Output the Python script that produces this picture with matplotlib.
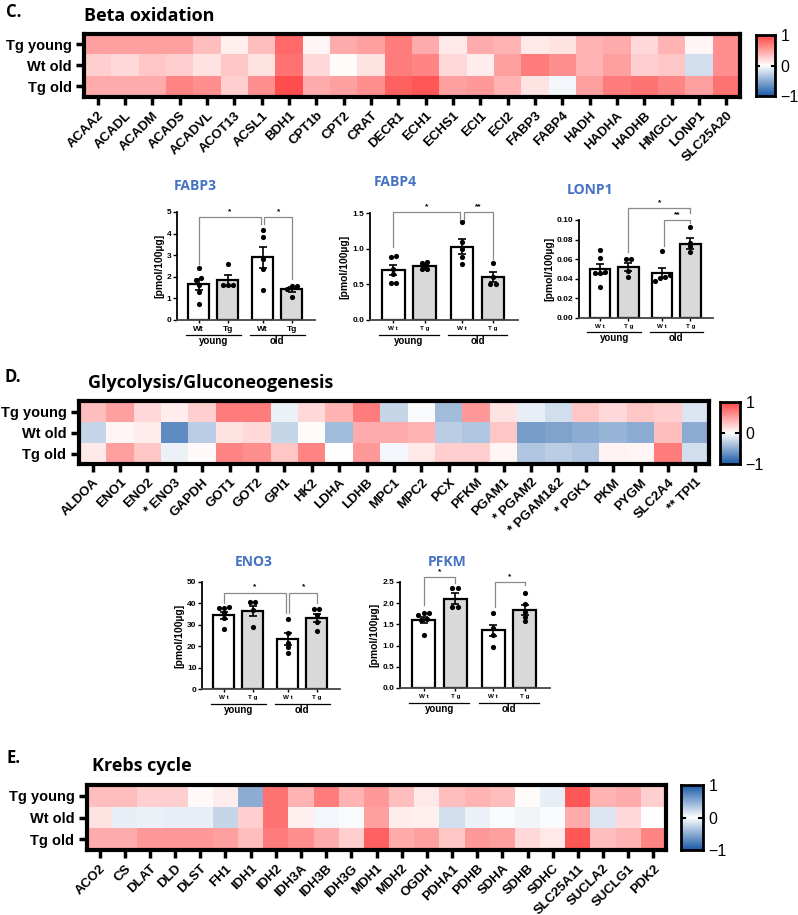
import numpy as np
import matplotlib
matplotlib.use("Agg")
import matplotlib.pyplot as plt
from matplotlib.colors import LinearSegmentedColormap
from matplotlib.lines import Line2D

W, H = 798, 915
LABEL_FONT = ["Liberation Sans", "DejaVu Sans"]
TITLE_FONT = ["Open Sans", "DejaVu Sans"]
plt.rcParams["font.family"] = LABEL_FONT

# ---------------- heatmap data ----------------
rows = ["Tg young", "Wt old", "Tg old"]

beta_genes = ["ACAA2", "ACADL", "ACADM", "ACADS", "ACADVL", "ACOT13", "ACSL1", "BDH1",
              "CPT1b", "CPT2", "CRAT", "DECR1", "ECH1", "ECHS1", "ECI1", "ECI2", "FABP3",
              "FABP4", "HADH", "HADHA", "HADHB", "HMGCL", "LONP1", "SLC25A20"]
beta_tg_young = [0.5, 0.5, 0.5, 0.5, 0.35, 0.08, 0.35, 0.8, 0.05, 0.45, 0.5, 0.7,
                 0.45, 0.12, 0.45, 0.4, 0.12, 0.15, 0.4, 0.45, 0.2, 0.4, 0.05, 0.6]
beta_wt_old = [0.25, 0.2, 0.3, 0.25, 0.15, 0.3, 0.15, 0.75, 0.2, 0.02, 0.15, 0.7,
               0.65, 0.2, 0.1, 0.5, 0.7, 0.6, 0.4, 0.5, 0.25, 0.3, -0.2, 0.6]
beta_tg_old = [0.45, 0.45, 0.45, 0.65, 0.6, 0.25, 0.6, 0.95, 0.45, 0.5, 0.6, 0.85,
               0.9, 0.5, 0.55, 0.4, 0.15, -0.05, 0.5, 0.7, 0.75, 0.65, 0.5, 0.75]

gly_genes = ["ALDOA", "ENO1", "ENO2", "* ENO3", "GAPDH", "GOT1", "GOT2", "GPI1", "HK2",
             "LDHA", "LDHB", "MPC1", "MPC2", "PCX", "PFKM", "PGAM1", "* PGAM2",
             "* PGAM1&2", "* PGK1", "PKM", "PYGM", "SLC2A4", "** TPI1"]
gly_tg_young = [0.35, 0.5, 0.2, 0.1, 0.25, 0.7, 0.7, -0.08, 0.2, 0.4, 0.7, -0.25,
                -0.02, -0.4, 0.55, 0.15, -0.1, -0.2, 0.3, 0.2, 0.3, 0.25, -0.15]
gly_wt_old = [-0.25, 0.05, 0.1, -0.7, -0.3, 0.15, 0.2, -0.25, 0.02, -0.4, 0.45, 0.45,
              0.4, -0.3, -0.35, 0.3, -0.6, -0.55, -0.5, -0.45, -0.5, 0.35, -0.5]
gly_tg_old = [0.12, 0.5, 0.3, -0.08, 0.03, 0.65, 0.6, 0.3, 0.65, 0.0, 0.55, -0.05,
              0.12, 0.25, 0.25, 0.05, -0.35, -0.3, -0.35, 0.07, 0.05, 0.7, -0.2]

krebs_genes = ["ACO2", "CS", "DLAT", "DLD", "DLST", "FH1", "IDH1", "IDH2", "IDH3A",
               "IDH3B", "IDH3G", "MDH1", "MDH2", "OGDH", "PDHA1", "PDHB", "SDHA", "SDHB",
               "SDHC", "SLC25A11", "SUCLA2", "SUCLG1", "PDK2"]
krebs_tg_young = [0.35, 0.35, 0.25, 0.25, 0.03, 0.1, -0.5, 0.75, 0.4, 0.7, 0.4, 0.55,
                  0.35, 0.12, 0.35, 0.4, 0.35, 0.02, -0.1, 0.9, 0.4, 0.45, 0.25]
krebs_wt_old = [0.15, -0.1, -0.08, -0.1, -0.1, -0.25, 0.25, 0.75, 0.08, -0.05, -0.03,
                0.5, 0.1, 0.08, -0.2, -0.08, -0.02, -0.06, -0.02, 0.45, -0.15, 0.2, 0.0]
krebs_tg_old = [0.45, 0.45, 0.55, 0.55, 0.55, 0.5, 0.35, 0.7, 0.6, 0.45, 0.25, 0.85,
                0.45, 0.5, 0.3, 0.55, 0.5, 0.2, 0.12, 0.9, 0.35, 0.4, 0.65]

# ---------------- bar chart data (Wt young, Tg young, Wt old, Tg old) ----------------
groups = ["Wt", "Tg", "Wt", "Tg"]

fabp3_means = [1.65, 1.83, 2.9, 1.43]
fabp3_sems = [0.25, 0.25, 0.5, 0.12]
fabp3_points = [[2.4, 1.95, 1.87, 1.6, 1.28, 0.73], [2.6, 1.62, 1.62, 1.62],
                [4.17, 3.86, 2.84, 2.37, 1.4], [1.59, 1.59, 1.44, 1.08]]

fabp4_means = [0.70, 0.76, 1.03, 0.60]
fabp4_sems = [0.07, 0.03, 0.1, 0.07]
fabp4_points = [[0.88, 0.9, 0.72, 0.65, 0.52, 0.52], [0.82, 0.8, 0.72, 0.72],
                [1.38, 1.1, 1.0, 0.88, 0.78], [0.8, 0.6, 0.5, 0.5]]

lonp1_means = [0.050, 0.052, 0.046, 0.076]
lonp1_sems = [0.005, 0.004, 0.005, 0.006]
lonp1_points = [[0.0695, 0.061, 0.0465, 0.046, 0.046, 0.032], [0.06, 0.0607, 0.048, 0.042],
                [0.068, 0.044, 0.042, 0.041, 0.038], [0.0925, 0.077, 0.073, 0.067]]

eno3_means = [34.5, 36.5, 23.5, 33.2]
eno3_sems = [1.6, 2.5, 2.9, 1.9]
eno3_points = [[38.4, 37.9, 37.9, 35.3, 33.4, 28.0], [40.7, 40.7, 36.8, 29.1],
               [32.7, 26.3, 21.4, 19.5, 17.0], [37.6, 37.2, 34.8, 31.4, 27.2]]

pfkm_means = [1.61, 2.11, 1.36, 1.84]
pfkm_sems = [0.07, 0.12, 0.13, 0.11]
pfkm_points = [[1.72, 1.76, 1.76, 1.62, 1.6, 1.25], [2.37, 2.37, 1.91, 1.91],
               [1.76, 1.41, 1.25, 0.96], [2.25, 1.97, 1.8, 1.68, 1.58]]

heat_cmap = LinearSegmentedColormap.from_list("rwb", ["#1b5aa8", "#ffffff", "#ff4545"])
blue_cmap = LinearSegmentedColormap.from_list("bwb", ["#1b5aa8", "#ffffff", "#1b5aa8"])
positions = [0, 1, 2.2, 3.2]
fills = ["white", "#d9d9d9", "white", "#d9d9d9"]

fig = plt.figure(figsize=(W / 100, H / 100), dpi=100)


def px_axes(x0, y0, x1, y1):
    return fig.add_axes([x0 / W, 1 - y1 / H, (x1 - x0) / W, (y1 - y0) / H])


def px_text(x, y, s, **kw):
    fig.text(x / W, 1 - y / H, s, **kw)


def draw_heatmap(box, genes, values, cbar_box, cbar_cmap):
    ax = px_axes(*box)
    ax.imshow(np.array(values), cmap=heat_cmap, vmin=-1, vmax=1, aspect="auto",
              interpolation="nearest")
    ax.set_xticks(range(len(genes)))
    ax.set_xticklabels(genes, rotation=45, ha="right", rotation_mode="anchor",
                       fontsize=9.5, fontweight="bold")
    ax.set_yticks(range(len(rows)))
    ax.set_yticklabels(rows, fontsize=10.5, fontweight="bold")
    ax.tick_params(width=2.5, length=6, pad=3)
    for s in ax.spines.values():
        s.set_linewidth(3)

    cax = px_axes(*cbar_box)
    grad = np.linspace(1, -1, 200)[:, None]
    cax.imshow(grad, cmap=cbar_cmap, vmin=-1, vmax=1, aspect="auto", extent=[0, 1, -1, 1])
    cax.set_xticks([])
    cax.yaxis.tick_right()
    cax.set_yticks([-1, 0, 1])
    cax.set_yticklabels(["\u22121", "0", "1"], fontsize=11.5)
    cax.tick_params(length=0, pad=4)
    for s in cax.spines.values():
        s.set_linewidth(2)
    for xs in ([0, 0.18], [0.82, 1]):
        cax.plot(xs, [0, 0], color="black", lw=1.5)
    cax.set_xlim(0, 1)
    cax.set_ylim(-1, 1)


def swarm_offsets(vals, tol, step=0.18):
    vals = np.asarray(vals)
    order = np.argsort(vals)
    offsets = np.zeros(len(vals))
    grp = [order[0]]
    all_groups = []
    for k in order[1:]:
        if vals[k] - vals[grp[-1]] < tol:
            grp.append(k)
        else:
            all_groups.append(grp)
            grp = [k]
    all_groups.append(grp)
    for g in all_groups:
        offs = (np.arange(len(g)) - (len(g) - 1) / 2) * step
        for idx, o in zip(g, offs):
            offsets[idx] = o
    return offsets


def draw_bars(box, title, title_xy, means, sems, points, ymax, ystep, fmt, brackets, spaced):
    ax = px_axes(*box)
    ax.bar(positions, means, width=0.72, color=fills, edgecolor="black", linewidth=1.6, zorder=1)
    ax.errorbar(positions, means, yerr=sems, fmt="none", ecolor="black", elinewidth=1.2,
                capsize=3, capthick=1.2, zorder=2)
    for p, pts in zip(positions, points):
        offs = swarm_offsets(pts, tol=ymax * 0.035)
        ax.scatter(p + offs, pts, s=14, color="black", zorder=3, linewidths=0)
    ax.set_xlim(-0.75, 4.0)
    ax.set_ylim(0, ymax)
    ticks = np.arange(0, ymax + ystep / 2, ystep)
    ax.set_yticks(ticks)
    ax.set_yticklabels([fmt % t for t in ticks], fontsize=6, fontweight="bold")
    ax.set_xticks(positions)
    labels = [" ".join(g) for g in groups] if spaced else groups
    ax.set_xticklabels(labels, fontsize=4.5 if spaced else 6, fontweight="bold")
    ax.tick_params(axis="y", width=1, length=3, pad=1)
    ax.tick_params(axis="x", width=1, length=2.5, pad=2)
    for s in ("top", "right"):
        ax.spines[s].set_visible(False)
    ax.spines["left"].set_linewidth(1.3)
    ax.spines["bottom"].set_linewidth(1.3)
    ax.spines["bottom"].set_color("#444444")
    ax.set_ylabel("[pmol/100µg]", fontsize=7.5, fontweight="bold", labelpad=2)

    trans = ax.get_xaxis_transform()
    for (a, b), name in zip(((0, 1), (2.2, 3.2)), ("young", "old")):
        ax.add_line(Line2D([a - 0.45, b + 0.45], [-0.14, -0.14], transform=trans,
                           color="black", lw=0.9, clip_on=False))
        ax.text((a + b) / 2, -0.15, name, transform=trans, ha="center", va="top",
                fontsize=7, fontweight="bold")

    for i, j, y, yi, yj, lab in brackets:
        xi = positions[i] + (0.06 if i == 2 and j == 3 else 0)
        xj = positions[j] - (0.06 if j == 2 else 0)
        ax.plot([xi, xi, xj, xj], [yi, y, y, yj], color="#8a8a8a", lw=0.9,
                clip_on=False, zorder=0)
        ax.text((xi + xj) / 2, y + ymax * 0.02, lab, ha="center", va="bottom",
                fontsize=6, fontweight="bold")

    px_text(title_xy[0], title_xy[1], title, ha="center", va="center", fontsize=10,
            fontweight="bold", color="#4472c4", family=TITLE_FONT)


# ---------------- panel C ----------------
px_text(6, 12, "C.", fontsize=12, fontweight="bold", va="center", family=TITLE_FONT)
px_text(84, 16, "Beta oxidation", fontsize=13, fontweight="bold", va="center", family=TITLE_FONT)
draw_heatmap((84, 34, 740, 97), beta_genes, [beta_tg_young, beta_wt_old, beta_tg_old],
             (756, 35, 775, 96), heat_cmap)

draw_bars((177, 212, 315, 320), "FABP3", (195, 186), fabp3_means, fabp3_sems, fabp3_points,
          5, 1, "%d", [(0, 2, 4.75, 2.6, 4.45, "*"), (2, 3, 4.75, 4.45, 1.9, "*")], False)
draw_bars((370, 213, 518, 320), "FABP4", (395, 182), fabp4_means, fabp4_sems, fabp4_points,
          1.5, 0.5, "%.1f", [(0, 2, 1.51, 1.02, 1.39, "*"), (2, 3, 1.51, 1.39, 0.85, "**")], True)
draw_bars((579, 220, 713, 318), "LONP1", (590, 190), lonp1_means, lonp1_sems, lonp1_points,
          0.10, 0.02, "%.2f", [(1, 3, 0.112, 0.067, 0.107, "*"), (2, 3, 0.100, 0.073, 0.097, "**")], True)

# ---------------- panel D ----------------
px_text(5, 377, "D.", fontsize=12, fontweight="bold", va="center", family=TITLE_FONT)
px_text(88, 383, "Glycolysis/Gluconeogenesis", fontsize=13, fontweight="bold", va="center",
        family=TITLE_FONT)
draw_heatmap((79, 401, 709, 464), gly_genes, [gly_tg_young, gly_wt_old, gly_tg_old],
             (720, 402, 740, 464), heat_cmap)

draw_bars((202, 582, 340, 689), "ENO3", (254, 562), eno3_means, eno3_sems, eno3_points,
          50, 10, "%d", [(0, 2, 45, 40, 35.3, "*"), (2, 3, 45, 35.3, 40.2, "*")], True)
draw_bars((400, 582, 550, 688), "PFKM", (447, 562), pfkm_means, pfkm_sems, pfkm_points,
          2.5, 0.5, "%.1f", [(0, 1, 2.62, 1.95, 2.48, "*"), (2, 3, 2.5, 1.91, 2.42, "*")], True)

# ---------------- panel E ----------------
px_text(6, 758, "E.", fontsize=12, fontweight="bold", va="center", family=TITLE_FONT)
px_text(92, 766, "Krebs cycle", fontsize=13, fontweight="bold", va="center", family=TITLE_FONT)
draw_heatmap((87, 785, 666, 850), krebs_genes, [krebs_tg_young, krebs_wt_old, krebs_tg_old],
             (681, 785, 703, 850), blue_cmap)

fig.savefig("out.png", dpi=100)
